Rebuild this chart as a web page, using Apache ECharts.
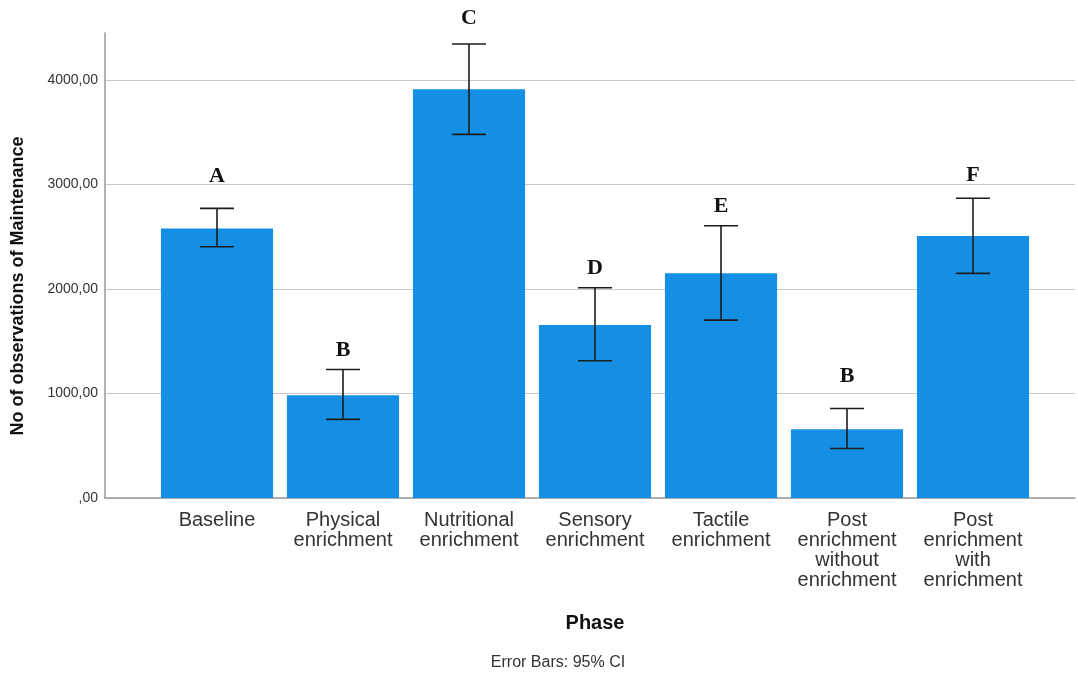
<!DOCTYPE html>
<html>
<head>
<meta charset="utf-8">
<script src="https://cdn.jsdelivr.net/npm/echarts@6/dist/echarts.min.js"></script>
<style>
  html, body { margin: 0; background: #fff; }
  #chart { width: 1078px; height: 678px; }
</style>
</head>
<body>
<div id="chart"></div>
<script>
// values
const phases = [
  'Baseline',
  'Physical\nenrichment',
  'Nutritional\nenrichment',
  'Sensory\nenrichment',
  'Tactile\nenrichment',
  'Post\nenrichment\nwithout\nenrichment',
  'Post\nenrichment\nwith\nenrichment',
];
const means = [2580, 984, 3911, 1655, 2150, 659, 2507];
const ciLow = [2404, 752, 3480, 1313, 1702, 474, 2150];
const ciHigh = [2772, 1230, 4345, 2012, 2605, 857, 2868];
const letters = ['A', 'B', 'C', 'D', 'E', 'B', 'F'];
const letterLevels = [3075, 1415, 4591, 2200, 2787, 1160, 3091];
const yMax = 4450;
const yStep = 1000;

const chart = echarts.init(document.getElementById('chart'));

const option = {
  animation: false,
  backgroundColor: '#fff',
  textStyle: { fontFamily: '"Liberation Sans", Arial, sans-serif' },
  grid: [
    // bars
    { left: 154, right: 42, top: 33, bottom: 180 },
    // frame: y axis, grid lines, baseline
    { left: 105, right: 3, top: 33, bottom: 180 },
  ],
  xAxis: [
    {
      type: 'category',
      gridIndex: 0,
      data: phases,
      axisLine: { show: false },
      axisTick: { show: false },
      axisLabel: {
        fontSize: 20,
        color: '#333',
        lineHeight: 20,
        margin: 12,
        interval: 0,
      },
    },
    {
      type: 'value',
      gridIndex: 1,
      min: 0,
      max: 1,
      axisLine: { show: true, lineStyle: { color: '#9a9a9a', width: 1.5 } },
      axisTick: { show: false },
      axisLabel: { show: false },
      splitLine: { show: false },
    },
  ],
  yAxis: [
    {
      type: 'value',
      gridIndex: 0,
      min: 0,
      max: yMax,
      interval: yStep,
      show: false,
    },
    {
      type: 'value',
      gridIndex: 1,
      min: 0,
      max: yMax,
      interval: yStep,
      axisLine: { show: true, lineStyle: { color: '#9a9a9a', width: 1.5 } },
      axisTick: { show: false },
      axisLabel: {
        fontSize: 14,
        color: '#333',
        margin: 7,
        showMaxLabel: false,
        formatter: (v) => (v === 0 ? '' : String(v)) + ',00',
      },
      splitLine: { show: true, showMaxLine: false, lineStyle: { color: '#c8c8c8', width: 1 } },
    },
  ],
  series: [
    {
      type: 'bar',
      xAxisIndex: 0,
      yAxisIndex: 0,
      data: means,
      barCategoryGap: '11%',
      itemStyle: { color: '#148fe3' },
    },
    {
      type: 'custom',
      xAxisIndex: 0,
      yAxisIndex: 0,
      clip: false,
      z: 5,
      data: phases.map((p, i) => [i, ciLow[i], ciHigh[i], letterLevels[i]]),
      encode: { x: 0, y: [1, 2] },
      renderItem: (params, api) => {
        const i = api.value(0);
        const lo = api.coord([i, api.value(1)]);
        const hi = api.coord([i, api.value(2)]);
        const lt = api.coord([i, api.value(3)]);
        const hw = 17;
        const style = { stroke: '#1c1c1c', lineWidth: 1.6 };
        return {
          type: 'group',
          children: [
            { type: 'line', shape: { x1: hi[0], y1: hi[1], x2: lo[0], y2: lo[1] }, style },
            { type: 'line', shape: { x1: hi[0] - hw, y1: hi[1], x2: hi[0] + hw, y2: hi[1] }, style },
            { type: 'line', shape: { x1: lo[0] - hw, y1: lo[1], x2: lo[0] + hw, y2: lo[1] }, style },
            {
              type: 'text',
              style: {
                text: letters[params.dataIndex],
                x: lt[0],
                y: lt[1],
                align: 'center',
                verticalAlign: 'middle',
                font: 'bold 22px "Liberation Serif", "Times New Roman", serif',
                fill: '#111',
              },
            },
          ],
        };
      },
    },
  ],
  graphic: [
    {
      type: 'text',
      x: 18,
      y: 286,
      rotation: Math.PI / 2,
      style: {
        text: 'No of observations of Maintenance',
        font: 'bold 18px "Liberation Sans", Arial, sans-serif',
        fill: '#111',
        align: 'center',
        verticalAlign: 'middle',
      },
    },
    {
      type: 'text',
      x: 595,
      y: 623,
      style: {
        text: 'Phase',
        font: 'bold 20px "Liberation Sans", Arial, sans-serif',
        fill: '#111',
        align: 'center',
        verticalAlign: 'middle',
      },
    },
    {
      type: 'text',
      x: 558,
      y: 663,
      style: {
        text: 'Error Bars: 95% CI',
        font: '16px "Liberation Sans", Arial, sans-serif',
        fill: '#333',
        align: 'center',
        verticalAlign: 'middle',
      },
    },
  ],
};

chart.setOption(option);
</script>
</body>
</html>
